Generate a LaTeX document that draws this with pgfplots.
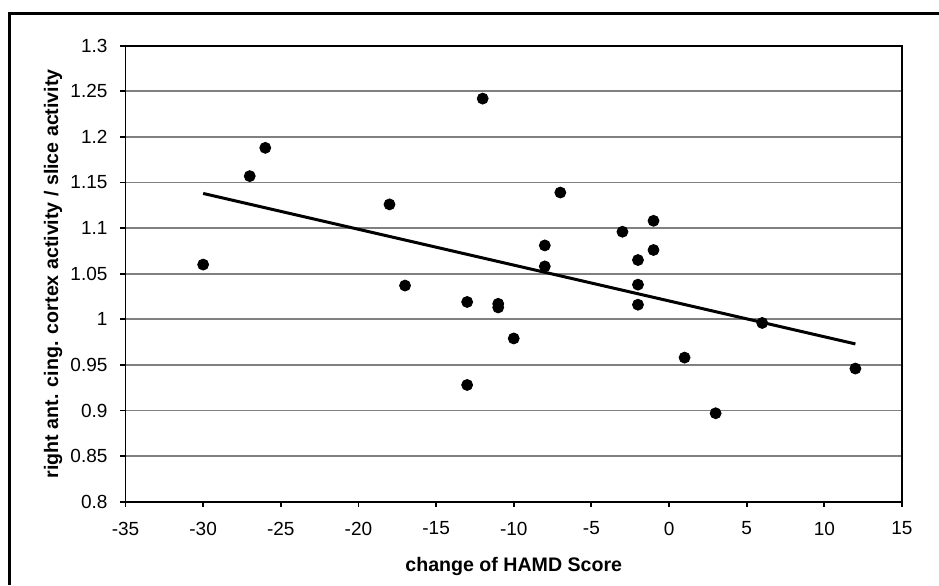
\documentclass[border=0pt]{standalone}
\usepackage{fontspec}
\setmainfont{Liberation Sans}
\usepackage{pgfplots}
\pgfplotsset{compat=1.18}

\pgfplotstableread{
x y
-30 1.060
-27 1.157
-26 1.188
-18 1.126
-17 1.037
-13 1.019
-13 0.928
-12 1.242
-11 1.017
-11 1.013
-10 0.979
-8 1.081
-8 1.058
-7 1.139
-3 1.096
-2 1.065
-2 1.038
-2 1.016
-1 1.108
-1 1.076
1 0.958
3 0.897
6 0.996
12 0.946
}\scores

\begin{document}
\begin{tikzpicture}
\useasboundingbox (0,0) rectangle (469.5pt,292.5pt);
% outer frame (only left and top visible)
\draw[line width=1.5pt] (4.5pt,0) -- (4.5pt,285.5pt) -- (469.5pt,285.5pt);
\begin{axis}[
  at={(62.75pt,41.65pt)}, anchor=south west,
  scale only axis,
  width=388.25pt, height=228pt,
  xmin=-35, xmax=15, ymin=0.8, ymax=1.3,
  xtick={-35,-30,...,15},
  xticklabels={-35,-30,-25,-20,-15,-10,-5,0,5,10,15},
  ytick={0.8,0.85,...,1.31},
  yticklabels={0.8,0.85,0.9,0.95,1,1.05,1.1,1.15,1.2,1.25,1.3},
  tick align=outside,
  major tick length=2.5pt,
  tick style={black, line width=0.9pt},
  xtick pos=bottom, ytick pos=left,
  axis line style={black, line width=0.9pt},
  ymajorgrids,
  major grid style={draw=black!50, line width=0.9pt},
  tick label style={font=\fontsize{9.5}{11}\selectfont},
  xticklabel style={yshift=-4pt},
  yticklabel style={xshift=-3pt},
  label style={font=\bfseries\fontsize{9.8}{12}\selectfont},
  xlabel={change of HAMD Score},
  ylabel={right ant. cing. cortex activity / slice activity},
  xlabel style={at={(axis description cs:0.5,-0.141)}, anchor=center},
  ylabel style={at={(axis description cs:-0.0934,0.5)}, anchor=center},
  clip=false,
]
\addplot[only marks, mark=*, mark size=2.75pt, black] table[x=x,y=y] {\scores};
\addplot[black, line width=1.5pt] coordinates {(-30,1.138) (12,0.973)};
\end{axis}
\end{tikzpicture}
\end{document}
